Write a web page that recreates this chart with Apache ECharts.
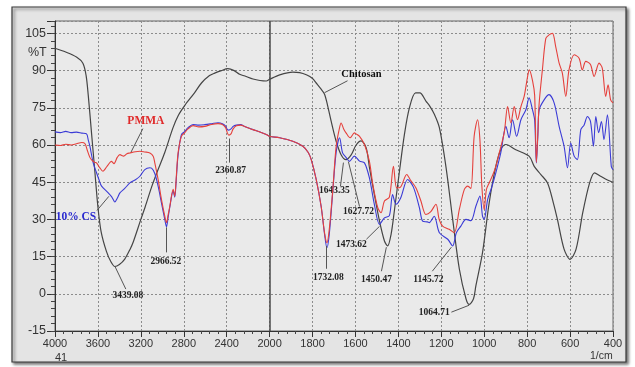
<!DOCTYPE html>
<html><head><meta charset="utf-8">
<script src="https://cdn.jsdelivr.net/npm/echarts@6/dist/echarts.min.js"></script>
<style>html,body{margin:0;padding:0;background:#fff}#c{width:635px;height:367px}</style>
</head><body><div id="c"></div>
<script>
// x tick labels (wavenumber, 1/cm) and y ticks (%T)
const xTickLabels = [4000,3600,3200,2800,2400,2000,1800,1600,1400,1200,1000,800,600,400];
const yTickLabels = [-15,0,15,30,45,60,75,90,105];

// Chitosan (black)
const chitosanWn = [4000,3900,3800,3740,3710,3690,3660,3630,3600,3570,3520,3480,3442,3400,3350,3300,3270,3200,3160,3100,3040,2977,2900,2850,2790,2700,2635,2560,2512,2450,2390,2330,2280,2230,2155,2090,2031,2000,1953,1892,1860,1829,1800,1783,1760,1744,1730,1713,1690,1667,1644,1620,1597,1574,1550,1535,1512,1488,1465,1450,1434,1419,1395,1372,1349,1320,1300,1271,1256,1233,1209,1178,1147,1116,1085,1070,1050,1039,1008,977,946,923,899,853,791,767,736,705,678,659,628,600,572,541,509,486,460,435,412,400];
const chitosanT  = [99,97.5,95.5,93,88,80,65,50,35,25,17,13,11,11.8,14,18,21,30,35,43,50,57,67,72,76,81,85,88,89,90,90.8,90,88.5,87.8,86.6,86,85.8,86.5,88.3,89.4,89.2,88.3,86.8,85,82.5,80.5,76,69.5,61.5,56.1,54.1,56,60,61.7,58.8,51,40,29.3,21.3,19.3,24,33.3,49.4,64.2,74.9,81,81,77.6,76,72.5,67,51,30,10,-2,-4.3,-2,3.2,16.6,36.7,51.4,58.1,60.2,58.1,55.5,51.4,48.1,44.7,36.7,30,18,13.9,18,32.7,44.7,48.8,47.5,46.3,45.4,45];

// PMMA (red)
const pmmaWn = [4000,3950,3900,3850,3800,3750,3720,3700,3675,3659,3630,3613,3585,3553,3530,3505,3475,3450,3420,3395,3360,3330,3302,3250,3209,3163,3116,3085,3070,3039,3008,2977,2961,2945,2930,2899,2884,2870,2853,2822,2790,2760,2713,2660,2605,2540,2481,2440,2410,2395,2380,2360,2340,2310,2270,2233,2155,2090,2031,2000,1953,1892,1845,1820,1806,1783,1760,1744,1733,1722,1705,1690,1674,1667,1655,1644,1625,1605,1597,1581,1558,1535,1519,1496,1481,1465,1442,1423,1408,1390,1361,1345,1318,1295,1272,1250,1225,1210,1194,1163,1140,1116,1093,1077,1062,1047,1031,1020,1011,1000,990,977,960,946,930,907,891,876,860,845,829,814,798,790,775,765,757,750,744,729,713,698,682,667,651,636,620,605,581,558,543,527,505,488,465,450,434,423,411,400];
const pmmaT  = [60,59.8,60.3,60,60.5,61,60.5,58,55,54,53,52.8,51,49.4,50.5,52,53.4,52.5,55,56.1,55.5,56.5,56.8,57.3,57.5,57.2,56.8,55.5,52.8,46.1,38.1,31.3,28.7,32,35.3,42.1,39.4,47,56.8,63.5,65,66.5,67.8,67.3,67.5,68.3,68.6,68.3,67,65,64,64.5,66.5,67.8,68,67.5,66.2,65.2,64.2,63.5,62.9,61.5,59.5,57,54.1,46.1,35.3,24.6,20.6,26,42.7,59.5,67,68.9,66.5,64.9,62.9,64.9,64.5,63.5,60.2,53.4,44.1,34.7,32.7,37.4,39,51.4,42.7,43,48.1,46,42.7,37.4,32,33,36.1,30,27.3,26,24.6,34,42,43.4,42.5,63.5,70.2,62,43.4,34,42,44.7,48,51.4,56.8,64.9,75.5,68.9,75.5,70.2,75.5,79.6,87.6,90.3,86,80,53,65,76.9,90.3,103,104.4,105,99.7,93,89,79.6,90.3,96.4,95,90.3,93.7,92.5,87.6,93,91,79.6,84.3,78.2,77];

// 10% CS (blue)
const csWn = [4000,3950,3900,3850,3800,3750,3706,3690,3675,3644,3613,3590,3566,3504,3470,3442,3420,3395,3350,3302,3250,3209,3163,3116,3100,3070,3039,3008,2977,2961,2945,2930,2899,2884,2870,2853,2822,2790,2760,2713,2660,2605,2540,2481,2440,2410,2395,2380,2360,2340,2310,2270,2233,2155,2090,2031,2000,1953,1892,1845,1820,1806,1783,1760,1744,1733,1722,1705,1690,1674,1660,1644,1628,1605,1581,1558,1535,1512,1488,1465,1442,1427,1411,1390,1357,1330,1302,1287,1265,1256,1233,1209,1170,1147,1130,1109,1085,1062,1039,1020,1008,1000,984,965,946,923,899,884,868,849,829,806,791,775,765,757,750,744,721,698,674,651,628,612,597,581,566,550,535,519,505,491,480,467,454,442,426,408,400];
const csT  = [65.3,65,65.5,65,65.2,64.8,64.5,62,59.5,52.8,48.8,46,43.4,40.7,39,37,38.5,40.7,42.5,44.7,46,47.4,50.1,50.8,50.7,48.5,43.4,36.7,30,27,31,35,41.5,39,46,56,64.2,65.5,67,68.2,68,68.2,68.6,69,68.6,67.6,66.3,66,66.5,67.5,68,68.2,67.5,66.2,65.2,64.2,63.5,62.9,61.5,59.5,57,54.1,46.1,35.3,24,18.5,24,42,57,62.9,56.8,55,53.4,55.5,53.5,52.8,46.7,36.1,28,30.6,31.5,40,36.1,38.5,46.1,43,34.7,29.3,29,28.7,31.3,24.6,22,19.3,24.6,27.3,30,29.5,35.3,39.4,31.3,30,38.1,43,48.8,56.8,67.5,62.9,70.2,63.5,70.2,74.2,79,74.2,70,52.8,64,74.2,78.2,80.3,76.9,67.5,59.5,50.8,60.8,55.5,54.1,66.2,68,71.5,69.5,59.5,71.5,65,69.5,62.2,72.2,51.4,50];

// Annotations: text, label anchor (wn, %T), arrow from (wn,%T) to (wn,%T)
const annText   = ['PMMA','10% CS','3439.08','2966.52','2360.87','Chitosan','1643.35','1627.72','1732.08','1473.62','1450.47','1145.72','1064.71'];
const annWn     = [3153,3805,3321,2967,2363,1572,1698,1586,1726,1619,1502,1260,1233];
const annT      = [69.8,30.8,-0.6,13.1,49.7,88.7,41.7,33.2,6.7,19.9,5.9,5.9,-7.4];
const arrFromWn = [3181,3609,3340,2967,2372,1637,1670,1581,1735,1549,1479,1242,1153];
const arrFromT  = [66.6,33.6,1.9,16.7,52.9,85.9,43.3,35.2,10.1,22.0,9.1,9.1,-7.4];
const arrToWn   = [3293,3498,3442,2967,2372,1744,1656,1633,1735,1488,1456,1153,1070];
const arrToT    = [57.0,39.3,11.1,26.8,62.6,81.1,52.9,53.3,19.3,27.2,18.8,18.8,-4.6];

// scale break at 2000 1/cm: above it 400 units per division, below 200
const xv = w => w >= 2000 ? (4000 - w) / 2 : 1000 + (2000 - w);
const wnOf = v => v <= 1000 ? 4000 - 2 * v : 3000 - v;
const toData = (wn, t) => wn.map((w, i) => [xv(w), t[i]]);

const annStyle = i => {
  if (annText[i] === 'PMMA') return {color:'#e02a2a', fontSize:11.5};
  if (annText[i] === '10% CS') return {color:'#2a2ad0', fontSize:11.5};
  if (annText[i] === 'Chitosan') return {color:'#111', fontSize:10.5};
  return {color:'#222', fontSize:9.5};
};

const chart = echarts.init(document.getElementById('c'), null, {renderer:'canvas'});
const font = 'Liberation Sans, Arial, sans-serif';
chart.setOption({
  animation:false,
  backgroundColor:'#ffffff',
  graphic:[
    {type:'rect', z:-20, shape:{x:12,y:7,width:614,height:355},
     style:{fill:'#e4e4e4', stroke:'#3a3a3a', lineWidth:1.2, shadowBlur:3, shadowOffsetX:2, shadowOffsetY:2, shadowColor:'rgba(0,0,0,0.55)'}},
    {type:'text', left:28, top:46, style:{text:'%T', font:'12.5px Liberation Sans, Arial', fill:'#333'}},
    {type:'text', left:55, top:352, style:{text:'41', font:'11px Liberation Sans, Arial', fill:'#333'}},
    {type:'text', left:590, top:351, style:{text:'1/cm', font:'10.5px Liberation Sans, Arial', fill:'#333'}}
  ],
  grid:{left:55, right:22, top:21, bottom:36, show:true, backgroundColor:'#eaeaea', borderColor:'#666', borderWidth:1},
  xAxis:{
    type:'value', min:0, max:2600, interval:200,
    axisLine:{show:true, onZero:false, lineStyle:{color:'#333', width:1}},
    axisTick:{show:true, length:6, lineStyle:{color:'#333'}},
    minorTick:{show:true, splitNumber:5, length:3, lineStyle:{color:'#444'}},
    axisLabel:{margin:7, fontSize:11, color:'#333', fontFamily:font, formatter:v => String(wnOf(v))},
    splitLine:{show:true, lineStyle:{color:'#8c8c8c', type:[2,2], width:1}}
  },
  yAxis:[{
    type:'value', min:-15, max:110, interval:15,
    axisLine:{show:true, onZero:false, lineStyle:{color:'#333', width:1}},
    axisTick:{show:true, length:8, lineStyle:{color:'#333'}},
    axisLabel:{margin:9, fontSize:12.5, color:'#333', fontFamily:font,
      formatter:v => yTickLabels.indexOf(v) >= 0 ? String(v) : ''},
    splitLine:{show:true, lineStyle:{color:'#8c8c8c', type:[2,2], width:1}}
  },{
    type:'value', min:-15, max:110, interval:3, position:'left',
    axisLine:{show:false}, axisLabel:{show:false}, splitLine:{show:false},
    axisTick:{show:true, length:4, lineStyle:{color:'#444'}}
  }],
  series:[
    {name:'Chitosan', type:'line', data:toData(chitosanWn, chitosanT), symbol:'none', smooth:0.3,
     lineStyle:{color:'#454545', width:1.2}, z:3,
     markLine:{silent:true, symbol:['none','none'], label:{show:false},
       lineStyle:{color:'#4a4a4a', width:1.5, type:'solid'},
       data:[{xAxis:xv(2000)}]}
    },
    {name:'10% CS', type:'line', data:toData(csWn, csT), symbol:'none', smooth:0.3,
     lineStyle:{color:'#3b3bd6', width:1.1}, z:4},
    {name:'PMMA', type:'line', data:toData(pmmaWn, pmmaT), symbol:'none', smooth:0.3,
     lineStyle:{color:'#e5403c', width:1.1}, z:5},
    {name:'annotations', type:'line', data:[], z:6,
     markLine:{silent:true, symbol:['none','arrow'], symbolSize:[0,7], label:{show:false},
       lineStyle:{color:'#555', width:1, type:'solid'},
       data: annText.map((t,i) => [{coord:[xv(arrFromWn[i]), arrFromT[i]]}, {coord:[xv(arrToWn[i]), arrToT[i]]}])},
     markPoint:{silent:true, symbol:'rect', symbolSize:1, itemStyle:{color:'rgba(0,0,0,0)'},
       data: annText.map((t,i) => {const s = annStyle(i); return {
         coord:[xv(annWn[i]), annT[i]],
         label:{show:true, position:'inside', formatter:t, color:s.color, fontSize:s.fontSize,
                fontWeight:'bold', fontFamily:'Liberation Serif, Times New Roman, serif'}};})}
    }
  ]
});
</script></body></html>
